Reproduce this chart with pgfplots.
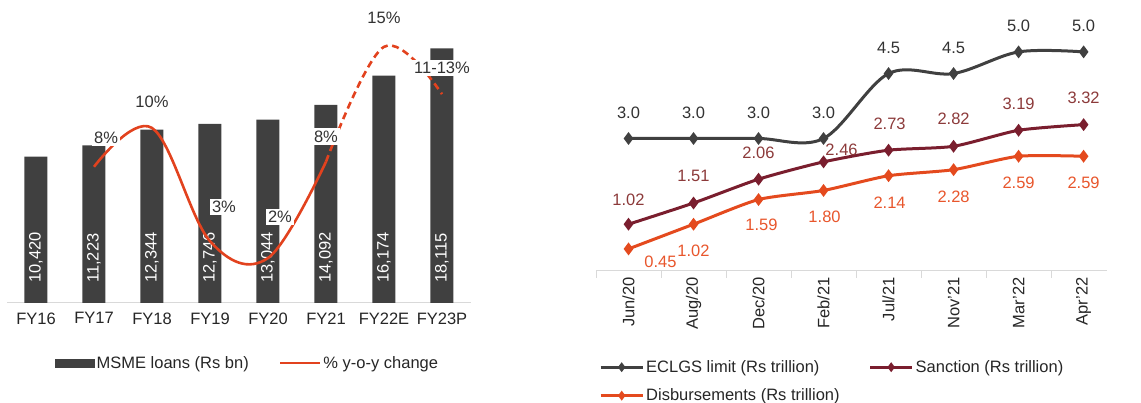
\documentclass[border=0pt]{standalone}
\usepackage{pgfplots}
\pgfplotsset{compat=1.18}
\usepackage{pgfplotstable}
\usepackage{fontspec}
\setmainfont{Liberation Sans}

\definecolor{bargray}{RGB}{64,64,64}
\definecolor{lred}{RGB}{226,66,30}
\definecolor{eclgs}{RGB}{64,64,64}
\definecolor{sanc}{RGB}{122,30,46}
\definecolor{disb}{RGB}{228,74,30}
\definecolor{sanclbl}{RGB}{140,58,58}
\definecolor{disblbl}{RGB}{232,86,44}
\definecolor{lblgray}{RGB}{50,50,50}

% MSME loans, Rs bn
\pgfplotstableread{
x lbl val vlab
0 FY16 10420 10,420
1 FY17 11223 11,223
2 FY18 12344 12,344
3 FY19 12746 12,746
4 FY20 13044 13,044
5 FY21 14092 14,092
6 FY22E 16174 16,174
7 FY23P 18115 18,115
}\loans

% y-o-y change, %  (dx, dy = label offset in pt)
\pgfplotstableread{
x pct lbl dx dy
1 7.7 8\% 12 29
2 10.0 10\% 0 26
3 3.3 3\% 14 34
4 2.3 2\% 12 41
5 8.0 8\% 0 25
6 14.8 15\% 0 29
7 12.0 11-13\% 0 26
}\growth

% ECLGS, Rs trillion
\pgfplotstableread{
x ec sa di lec lsa ldi sdx sdy ddx ddy
0 3.0 1.02 0.45 3.0 1.02 0.45 0 24 32 -13
1 3.0 1.51 1.02 3.0 1.51 1.02 0 27 0 -27
2 3.0 2.06 1.59 3.0 2.06 1.59 0 26 3 -25
3 3.0 2.46 1.80 3.0 2.46 1.80 18 12 1 -26
4 4.5 2.73 2.14 4.5 2.73 2.14 1 26 1 -27
5 4.5 2.82 2.28 4.5 2.82 2.28 0 27 0 -27
6 5.0 3.19 2.59 5.0 3.19 2.59 0 26 0 -27
7 5.0 3.32 2.59 5.0 3.32 2.59 0 27 0 -27
}\eclgs

\begin{document}
\begin{tikzpicture}[font=\fontsize{16.5}{19}\selectfont]
\useasboundingbox (0,0) rectangle (1141pt,403pt);

% ---- left: bars
\begin{axis}[
    at={(7pt,100pt)}, anchor=south west,
    scale only axis, width=464pt, height=281pt,
    xmin=-0.5, xmax=7.5, ymin=0, ymax=20000,
    axis x line*=bottom, axis y line=none,
    x axis line style={draw=black!15, line width=1pt, -},
    xtick={0,...,7}, xticklabels from table={\loans}{lbl},
    major tick length=0pt,
    xticklabel style={yshift=-6pt, text=black!85},
    clip=false,
]
\addplot[ybar, bar width=23pt, fill=bargray, draw=none] table[x=x, y=val] {\loans};
\addplot[draw=none, mark=none, nodes near coords, point meta=explicit symbolic,
    every node near coord/.style={rotate=90, anchor=west, inner sep=0pt, text=white}]
    table[x=x, y expr=1423, meta=vlab] {\loans};
\end{axis}

% ---- left: growth line
\begin{axis}[
    at={(7pt,100pt)}, anchor=south west,
    scale only axis, width=464pt, height=281pt,
    xmin=-0.5, xmax=7.5, ymin=-0.36, ymax=16.27,
    hide axis, clip=false,
    legend columns=2, legend cell align=left,
    legend style={draw=none, fill=none, at={(0.097,-0.214)}, anchor=west,
        text=black!85, /tikz/every even column/.append style={column sep=28pt}},
]
\addlegendimage{legend image code/.code={\fill[bargray] (0pt,-4pt) rectangle (39pt,4pt);}}
\addlegendentry{MSME loans (Rs bn)}
\addplot[lred, line width=2.6pt, smooth, tension=0.6, skip coords between index={5}{7},
    legend image code/.code={\draw[lred, line width=2.6pt] (0pt,0pt) -- (40pt,0pt);}]
    table[x=x, y=pct] {\growth};
\addlegendentry{\% y-o-y change}
\addplot[lred, line width=2.6pt, smooth, tension=0.6, dash pattern=on 7pt off 4.5pt,
    skip coords between index={0}{4}, forget plot]
    table[x=x, y=pct] {\growth};
\addplot[draw=none, mark=none, forget plot, nodes near coords, point meta=explicit symbolic,
    visualization depends on={\thisrow{dx}\as\dx},
    visualization depends on={\thisrow{dy}\as\dy},
    every node near coord/.style={anchor=center, fill=white, inner sep=2.5pt,
        text=lblgray, xshift=\dx pt, yshift=\dy pt}]
    table[x=x, y=pct, meta=lbl] {\growth};
\end{axis}

% ---- right: ECLGS
\begin{axis}[
    at={(596pt,132pt)}, anchor=south west,
    scale only axis, width=511pt, height=262.4pt,
    xmin=-0.5, xmax=7.36, ymin=-0.06, ymax=6,
    axis x line*=bottom, axis y line=none,
    x axis line style={draw=black!15, line width=1pt, -},
    xtick={0,...,7},
    xticklabels={Jun/20,Aug/20,Dec/20,Feb/21,Jul/21,Nov'21,Mar'22,Apr'22},
    xticklabel style={rotate=90, anchor=east, inner sep=0pt, xshift=-6pt, text=black!85},
    major tick length=0pt,
    minor xtick={-0.5,0.5,...,6.5}, minor tick length=7pt, tick align=outside,
    xtick pos=bottom,
    minor tick style={draw=black!15, line width=1pt},
    clip=false,
    legend columns=2, legend cell align=left,
    legend style={draw=none, fill=none, at={(0.0,-0.325)}, anchor=north west,
        text=black!85, row sep=11pt,
        /tikz/every even column/.append style={column sep=27pt}},
    legend image code/.code={\draw[mark repeat=2, mark phase=2, #1, mark size=2.5pt]
        plot coordinates {(0pt,0pt) (21pt,0pt) (42pt,0pt)};},
]
\addplot[eclgs, line width=3pt, smooth, tension=0.55, mark=diamond*, mark size=4pt,
    nodes near coords, point meta=explicit symbolic,
    every node near coord/.style={anchor=center, yshift=26pt, text=lblgray}]
    table[x=x, y=ec, meta=lec] {\eclgs};
\addlegendentry{ECLGS limit (Rs trillion)}
\addplot[sanc, line width=3pt, smooth, tension=0.4, mark=diamond*, mark size=4pt,
    nodes near coords, point meta=explicit symbolic,
    visualization depends on={\thisrow{sdx}\as\dx},
    visualization depends on={\thisrow{sdy}\as\dy},
    every node near coord/.style={anchor=center, xshift=\dx pt, yshift=\dy pt, text=sanclbl}]
    table[x=x, y=sa, meta=lsa] {\eclgs};
\addlegendentry{Sanction (Rs trillion)}
\addplot[disb, line width=3pt, smooth, tension=0.4, mark=diamond*, mark size=4pt,
    nodes near coords, point meta=explicit symbolic,
    visualization depends on={\thisrow{ddx}\as\dx},
    visualization depends on={\thisrow{ddy}\as\dy},
    every node near coord/.style={anchor=center, xshift=\dx pt, yshift=\dy pt, text=disblbl}]
    table[x=x, y=di, meta=ldi] {\eclgs};
\addlegendentry{Disbursements (Rs trillion)}
\end{axis}
\end{tikzpicture}
\end{document}
